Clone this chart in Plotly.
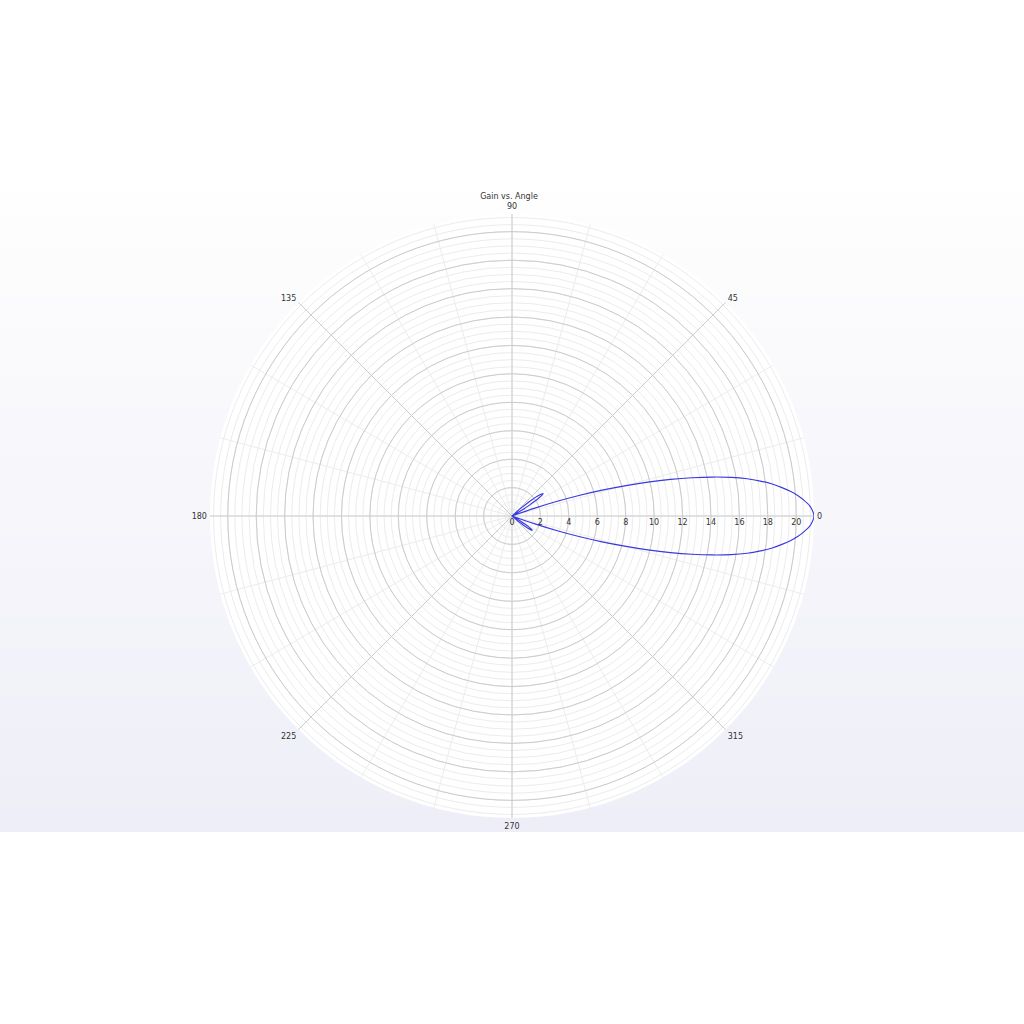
import plotly.graph_objects as go

# ---- data ----
angle_deg = [-90, -60, -45, -43, -42, -41, -40, -39, -38, -37, -36, -35, -34, -33, -32, -31, -30, -29, -28,
             -25, -21, -20, -19, -18, -17, -16, -15, -14, -13, -12, -11, -10, -9, -8, -7, -6, -5, -4, -3, -2, -1,
             0, 1, 2, 3, 4, 5, 6, 7, 8, 9, 10, 11, 12, 13, 14, 15, 16, 17, 18, 19, 20, 21, 25,
             28, 29, 30, 31, 32, 33, 34, 35, 36, 37, 38, 39, 40, 41, 42, 43, 44, 45, 60, 90]
gain = [0.0, 0.0, 0.0, 0.0, 0.0, 0.2, 0.55, 0.9, 1.25, 1.5, 1.7, 1.75, 1.65, 1.4, 1.1, 0.75, 0.4, 0.1, 0.0,
        0.0, 0.0, 0.2, 1.7, 3.35, 5.0, 6.6, 8.2, 9.85, 11.45, 12.95, 14.35, 15.65, 16.75, 17.65, 18.45, 19.1, 19.7, 20.2, 20.6, 20.95, 21.15,
        21.25, 21.15, 20.95, 20.6, 20.2, 19.7, 19.1, 18.45, 17.65, 16.75, 15.65, 14.35, 12.95, 11.45, 9.85, 8.2, 6.6, 5.0, 3.35, 1.7, 0.2, 0.0, 0.0,
        0.0, 0.15, 0.55, 1.0, 1.45, 1.9, 2.3, 2.6, 2.7, 2.55, 2.25, 1.85, 1.4, 0.9, 0.45, 0.1, 0.0, 0.0, 0.0, 0.0]

radial_ticks = [0, 2, 4, 6, 8, 10, 12, 14, 16, 18, 20]
angular_ticks = [0, 45, 90, 135, 180, 225, 270, 315]
angular_labels = [str(a) for a in angular_ticks]
minor_radial_step = 0.5
minor_angular_step = 15
r_max = 21.25
title_text = "Gain vs. Angle"

# ---- figure ----
fig = go.Figure()

# invisible trace so that the minor-grid polar subplot is drawn
fig.add_trace(go.Scatterpolar(
    r=[0], theta=[0], mode="markers", marker=dict(size=1, opacity=0),
    subplot="polar", showlegend=False, hoverinfo="skip",
))

fig.add_trace(go.Scatterpolar(
    r=gain, theta=angle_deg, mode="lines",
    line=dict(color="#3a3ade", width=1.1, shape="spline", smoothing=0.6),
    subplot="polar2", showlegend=False, hoverinfo="skip",
))

# background gradient band (figure area of the original)
top_px, bot_px, H = 192, 832, 1024
n = 80
c0 = (254, 254, 254)
c1 = (238, 238, 248)
shapes = []
for i in range(n):
    t = (i + 0.5) / n
    col = tuple(round(c0[k] + (c1[k] - c0[k]) * t) for k in range(3))
    y_top = top_px + (bot_px - top_px) * i / n
    y_bot = top_px + (bot_px - top_px) * (i + 1) / n
    shapes.append(dict(type="rect", xref="paper", yref="paper",
                       x0=0, x1=1, y0=1 - y_bot / H, y1=1 - y_top / H + 0.0005,
                       fillcolor="rgb(%d,%d,%d)" % col, line=dict(width=0), layer="below"))

cx, cy, rad = 512, 516, 302
dom_x = [(cx - rad) / 1024, (cx + rad) / 1024]
dom_y = [(H - cy - rad) / H, (H - cy + rad) / H]

font = dict(family="DejaVu Sans", size=8, color="#333333")

fig.update_layout(
    width=1024, height=1024,
    margin=dict(l=0, r=0, t=0, b=0),
    paper_bgcolor="white",
    shapes=shapes,
    font=font,
    showlegend=False,
    title=dict(text=title_text, x=509 / 1024, xanchor="center", y=1 - 196 / H, yanchor="middle",
               font=dict(family="DejaVu Sans", size=8, color="#333333")),
    polar=dict(
        domain=dict(x=dom_x, y=dom_y),
        bgcolor="white",
        radialaxis=dict(range=[0, r_max], dtick=minor_radial_step, tick0=0, showticklabels=False,
                        ticks="", showline=False, gridcolor="#ececec", gridwidth=1, angle=0),
        angularaxis=dict(rotation=0, direction="counterclockwise", dtick=minor_angular_step,
                         showticklabels=False, ticks="", showline=False, gridcolor="#ececec", gridwidth=1),
    ),
    polar2=dict(
        domain=dict(x=dom_x, y=dom_y),
        bgcolor="rgba(0,0,0,0)",
        radialaxis=dict(range=[0, r_max], tickmode="array", tickvals=radial_ticks, ticks="",
                        showline=False, gridcolor="#cccccc", gridwidth=1, angle=0, tickangle=0,
                        tickfont=font),
        angularaxis=dict(rotation=0, direction="counterclockwise", tickmode="array",
                         tickvals=angular_ticks, ticktext=angular_labels,
                         ticks="outside", ticklen=1, tickcolor="rgba(0,0,0,0)", showline=False,
                         gridcolor="#cccccc", gridwidth=1, tickfont=font),
    ),
)

fig.write_html("out.html", config={"displayModeBar": False},
               post_script="document.body.style.margin='0';document.body.style.overflow='hidden';")
